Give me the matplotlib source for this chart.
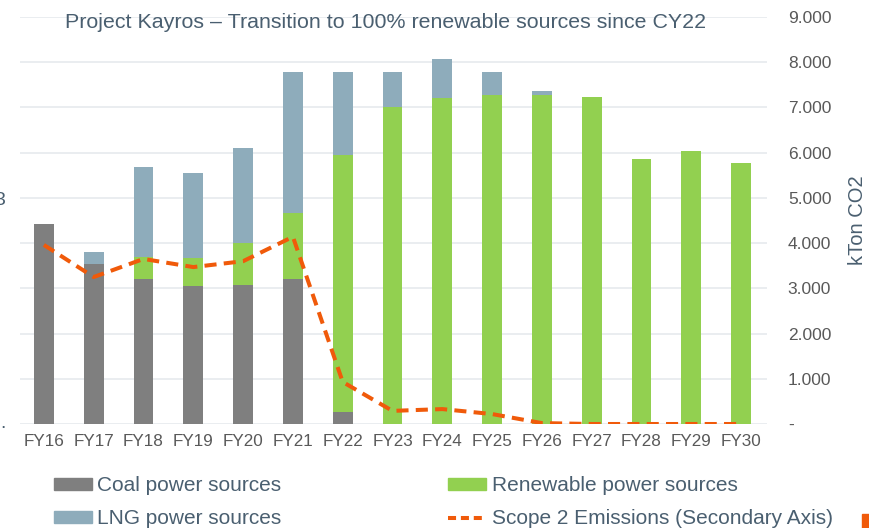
import matplotlib
matplotlib.use("Agg")
import matplotlib.pyplot as plt
import numpy as np
from matplotlib.patches import Patch, Rectangle
from matplotlib.lines import Line2D
from matplotlib.ticker import FixedLocator, FuncFormatter

plt.rcParams['font.family'] = ['Liberation Sans', 'DejaVu Sans']

years = ["FY16", "FY17", "FY18", "FY19", "FY20", "FY21", "FY22", "FY23",
         "FY24", "FY25", "FY26", "FY27", "FY28", "FY29", "FY30"]
coal = [4420, 3540, 3210, 3050, 3080, 3210, 270, 0, 0, 0, 0, 0, 0, 0, 0]
renewable = [0, 0, 480, 620, 920, 1460, 5680, 7010, 7210, 7280, 7280, 7230, 5860, 6040, 5770]
lng = [0, 260, 2000, 1880, 2100, 3120, 1840, 780, 870, 510, 90, 0, 0, 0, 0]
scope2 = [3960, 3250, 3650, 3470, 3600, 4140, 930, 290, 330, 220, 20, 0, 0, 0, 0]
right_ticks = [0, 1000, 2000, 3000, 4000, 5000, 6000, 7000, 8000, 9000]

c_coal = "#7f7f7f"
c_ren = "#92d050"
c_lng = "#8eacbb"
c_line = "#f05a0a"
c_text = "#4a5f70"
c_tick = "#595959"
c_grid = "#e6eaee"

fig = plt.figure(figsize=(8.7, 5.28), dpi=100)
ax = fig.add_axes([20/870, 104/528, 747/870, 407/528])
x = np.arange(len(years))
w = 0.4
coal_a = np.array(coal)
ren_a = np.array(renewable)
lng_a = np.array(lng)
ax.bar(x, coal_a, w, color=c_coal, zorder=2)
ax.bar(x, ren_a, w, bottom=coal_a, color=c_ren, zorder=2)
ax.bar(x, lng_a, w, bottom=coal_a + ren_a, color=c_lng, zorder=2)
ax.set_xlim(-0.48, len(years) - 0.48)
ax.set_ylim(0, 9000)
ax.yaxis.set_major_locator(FixedLocator(right_ticks))
ax.grid(axis='y', color=c_grid, linewidth=1.2, zorder=0)
ax.set_axisbelow(True)
ax.set_xticks(x)
ax.set_xticklabels(years)
ax.tick_params(axis='x', length=0, pad=7, labelsize=12.3, labelcolor=c_tick)
for s in ax.spines.values():
    s.set_visible(False)

ax2 = ax.twinx()
ax.tick_params(axis='y', left=False, right=False, labelleft=False, labelright=False)
ax2.plot(x, scope2, color=c_line, linewidth=2.9, dashes=(3.0, 1.8), zorder=3)
ax2.set_ylim(0, 9000)
ax2.yaxis.set_major_locator(FixedLocator(right_ticks))
ax2.yaxis.set_major_formatter(FuncFormatter(
    lambda v, p: "-" if v == 0 else f"{int(v)//1000}.{int(v)%1000:03d}"))
ax2.tick_params(axis='y', left=False, length=0, pad=15, labelsize=12.5, labelcolor=c_tick)
for lab in ax2.get_yticklabels():
    lab.set_horizontalalignment('left')
for s in ax2.spines.values():
    s.set_visible(False)
ax2.set_ylabel("kTon CO2", fontsize=14.5, color=c_text, labelpad=12)

fig.text(386/870, 1 - 22/528, "Project Kayros \u2013 Transition to 100% renewable sources since CY22",
         ha='center', va='center', fontsize=15.4, color=c_text)

handles = [Patch(color=c_coal), Patch(color=c_lng), Patch(color=c_ren),
           Line2D([0], [0], color=c_line, linewidth=2.9, dashes=(2.0, 1.2))]
labels = ["Coal power sources", "LNG power sources", "Renewable power sources",
          "Scope 2 Emissions (Secondary Axis)"]
leg = fig.legend(handles, labels, ncol=2, loc='upper left',
                 bbox_to_anchor=(54/870, 1 - 476/528), frameon=False,
                 fontsize=15, handlelength=1.83, handleheight=0.5,
                 handletextpad=0.25, columnspacing=8.0, labelspacing=0.68,
                 borderpad=0, borderaxespad=0)
for t in leg.get_texts():
    t.set_color(c_text)

# edge fragments
fig.text(0.0, 1 - 201/528, "3", ha='center', va='center', fontsize=14, color=c_text)
fig.text(3/870, 1 - 424/528, ".", ha='center', va='center', fontsize=14, color=c_text)
fig.patches.append(Rectangle((862/870, 0), 10/870, 14/528, transform=fig.transFigure,
                             color=c_line, figure=fig))

fig.savefig("out.png", dpi=100)
